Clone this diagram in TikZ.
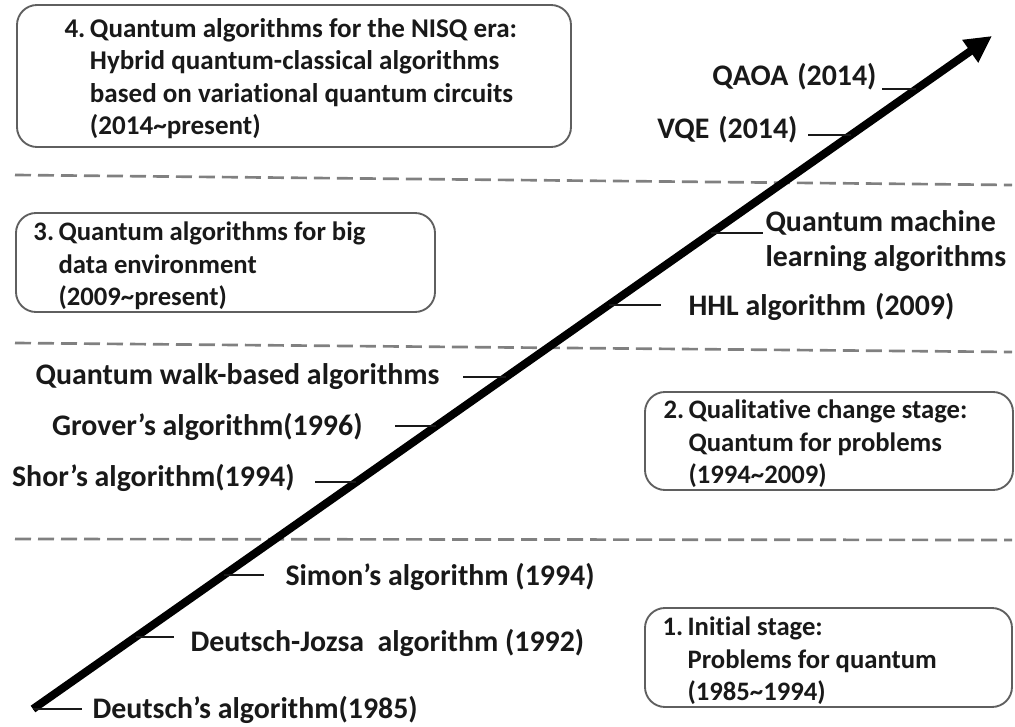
\documentclass[tikz,border=0pt]{standalone}
\usepackage{fontspec}
\setmainfont{Carlito}[Ligatures=NoCommon]
\usetikzlibrary{arrows.meta}
\tikzset{every picture/.style={line width=0.75pt}}
\definecolor{boxgray}{RGB}{95,95,95}
\definecolor{dashgray}{RGB}{128,128,128}
\definecolor{inkblack}{RGB}{25,25,25}

\begin{document}
\begin{tikzpicture}[x=0.75pt,y=0.75pt,yscale=-1,xscale=1,
  stagebox/.style={draw=boxgray, line width=1.4pt, rounded corners=15pt},
  stagetext/.style={anchor=west, inner sep=0pt, font=\fontsize{20}{24.4}\selectfont\bfseries, text=inkblack},
  algolabel/.style={inner sep=0pt, font=\fontsize{22.4}{26.5}\selectfont\bfseries, text=inkblack},
  eraline/.style={draw=dashgray, line width=2pt, dash pattern=on 12pt off 5.25pt},
  tick/.style={draw=inkblack, line width=1.6pt},
  timeline/.style={draw=black, line width=6pt, -{Triangle[length=20pt,width=19.5pt]}}]
%set diagram left start at 0, and has height of 727
\path[use as bounding box] (0,0) rectangle (1015,727);

%Shape: Rounded Rect [id:stage4]
\draw[stagebox] (17,5) rectangle (571,147);
%Shape: Rounded Rect [id:stage3]
\draw[stagebox] (16,213) rectangle (435,312);
%Shape: Rounded Rect [id:stage2]
\draw[stagebox] (645,392) rectangle (1013,490);
%Shape: Rounded Rect [id:stage1]
\draw[stagebox] (645,608) rectangle (1012,707);

%Dashed Lines [id:era]
\draw[eraline] (15,175) -- (1012,185);
\draw[eraline] (15,343) -- (1012,352);
\draw[eraline] (15,539) -- (1012,540);

%Straight Lines [id:timeline]
\coordinate (arrS) at (33,709);
\coordinate (arrE) at (992,36);
\draw[timeline] (arrS) -- (arrE);

\path (arrS) -- (arrE)
  coordinate[pos=0.9212] (qaoa-a)
  coordinate[pos=0.8529] (vqe-a)
  coordinate[pos=0.7073] (qml-a)
  coordinate[pos=0.6003] (hhl-a)
  coordinate[pos=0.4933] (walk-a)
  coordinate[pos=0.4205] (grover-a)
  coordinate[pos=0.3373] (shor-a)
  coordinate[pos=0.1991] (simon-a)
  coordinate[pos=0.1070] (dj-a)
  coordinate[pos=0.0000] (deutsch-a);

% Ticks
\draw[tick] (qaoa-a) -- ++(-34,0);
\draw[tick] (vqe-a) -- ++(-43,0);
\draw[tick] (qml-a) -- ++(52,0);
\draw[tick] (hhl-a) -- ++(52,0);
\draw[tick] (walk-a) -- ++(-43,0);
\draw[tick] (grover-a) -- ++(-41,0);
\draw[tick] (shor-a) -- ++(-41,0);
\draw[tick] (simon-a) -- ++(40,0);
\draw[tick] (dj-a) -- ++(38,0);
\draw[tick] (deutsch-a) -- ++(49,0);

% Text Node
\node[stagetext, font=\fontsize{20.3}{24.4}\selectfont\bfseries] (stage4) at (64,79.5) {\begin{tabular}{@{}l@{\,}l@{}}4. & Quantum algorithms for the NISQ era:\\ & Hybrid quantum-classical algorithms\\ & based on variational quantum circuits\\ & (2014\textasciitilde present)\end{tabular}};
% Text Node
\node[stagetext] (stage3) at (33,266.5) {\begin{tabular}{@{}l@{\,}l@{}}3. & Quantum algorithms for big\\ & data environment\\ & (2009\textasciitilde present)\end{tabular}};
% Text Node
\node[stagetext] (stage2) at (663,444.5) {\begin{tabular}{@{}l@{\,}l@{}}2. & Qualitative change stage:\\ & Quantum for problems\\ & (1994\textasciitilde 2009)\end{tabular}};
% Text Node
\node[stagetext] (stage1) at (662,661.5) {\begin{tabular}{@{}l@{\,}l@{}}1. & Initial stage:\\ & Problems for quantum\\ & (1985\textasciitilde 1994)\end{tabular}};

% Text Node
\node[algolabel, anchor=east] (qaoa) at (877,77) {QAOA\hspace{0.3em}(2014)};
% Text Node
\node[algolabel, anchor=east] (vqe) at (798,130) {VQE\hspace{0.3em}(2014)};
% Text Node
\node[algolabel, anchor=west, align=left] (qml) at (765,241) {Quantum machine\\learning algorithms};
% Text Node
\node[algolabel, anchor=west] (hhl) at (688,307) {HHL algorithm\hspace{0.3em}(2009)};
% Text Node
\node[algolabel, anchor=east] (walk) at (440,377) {Quantum walk-based algorithms};
% Text Node
\node[algolabel, anchor=east] (grover) at (363,427) {Grover’s algorithm(1996)};
% Text Node
\node[algolabel, anchor=east] (shor) at (295,478) {Shor’s algorithm(1994)};
% Text Node
\node[algolabel, anchor=west] (simon) at (285,577) {Simon’s algorithm (1994)};
% Text Node
\node[algolabel, anchor=west] (dj) at (190,643) {Deutsch-Jozsa\hspace{0.45em}algorithm (1992)};
% Text Node
\node[algolabel, anchor=west] (deutsch) at (92,710) {Deutsch’s algorithm(1985)};

\end{tikzpicture}
\end{document}
